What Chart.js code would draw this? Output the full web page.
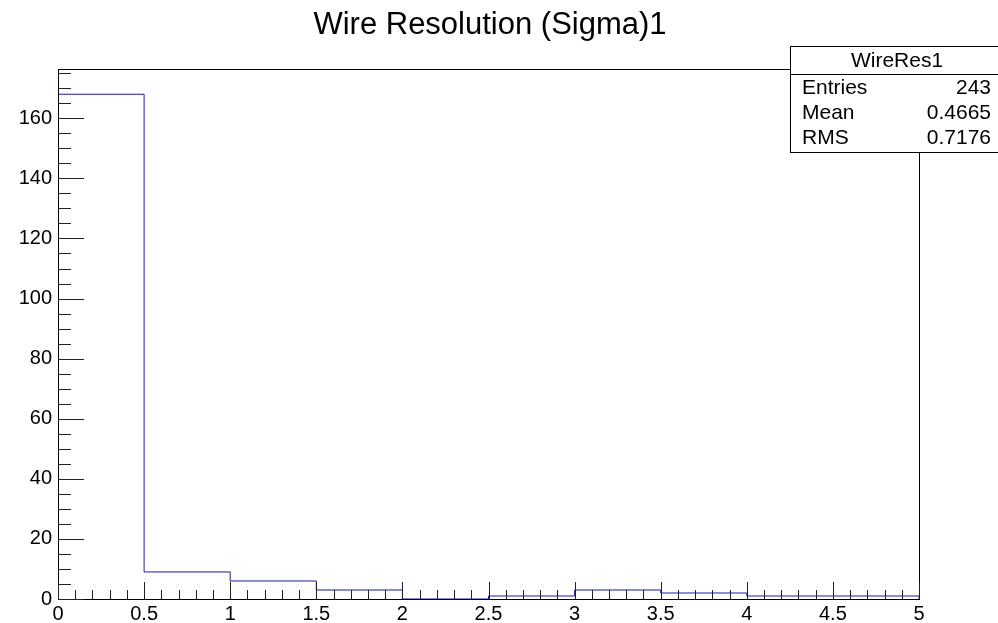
<!DOCTYPE html>
<html>
<head>
<meta charset="utf-8">
<script src="https://cdn.jsdelivr.net/npm/chart.js@4"></script>
<style>
  html, body { margin: 0; padding: 0; background: #fff; }
  canvas { display: block; }
</style>
</head>
<body>
<canvas id="myChart" width="998" height="623"></canvas>
<script>
// histogram bins (lower edges) and counts
const binLow = [0, 0.5, 1, 1.5, 2, 2.5, 3, 3.5, 4, 4.5];
const counts = [168, 9, 6, 3, 0, 1, 3, 2, 1, 1];
const xUpper = 5;
const yTop = 176.4;

const xTickValues = [0, 0.5, 1, 1.5, 2, 2.5, 3, 3.5, 4, 4.5, 5];
const xTickLabels = ['0', '0.5', '1', '1.5', '2', '2.5', '3', '3.5', '4', '4.5', '5'];
const yTickValues = [0, 20, 40, 60, 80, 100, 120, 140, 160];
const yTickLabels = ['0', '20', '40', '60', '80', '100', '120', '140', '160'];

const chartTitle = 'Wire Resolution (Sigma)1';
const statsName = 'WireRes1';
const statsRows = [['Entries', '243'], ['Mean', '0.4665'], ['RMS', '0.7176']];

// step outline points for the histogram
const histPoints = [{x: binLow[0], y: 0}];
binLow.forEach((x, i) => histPoints.push({x: x, y: counts[i]}));
histPoints.push({x: xUpper, y: counts[counts.length - 1]});
histPoints.push({x: xUpper, y: 0});

const FONT = 'Liberation Sans, Arial, sans-serif';

// ROOT style frame, inner ticks, title and stats box
const rootStyle = {
  id: 'rootStyle',
  afterDatasetsDraw(chart) {
    const ctx = chart.ctx;
    const a = chart.chartArea;
    const xs = chart.scales.x;
    const ys = chart.scales.y;
    ctx.save();
    ctx.lineWidth = 1;
    ctx.strokeStyle = '#000';
    ctx.strokeRect(Math.round(a.left) + 0.5, Math.round(a.top) + 0.5,
      Math.round(a.right - a.left), Math.round(a.bottom - a.top));

    // x ticks
    ctx.strokeStyle = '#222';
    ctx.beginPath();
    for (let k = 0; k <= 50; k++) {
      const px = Math.round(xs.getPixelForValue(k / 10)) + 0.5;
      const len = (k % 5 === 0) ? 17 : 9;
      ctx.moveTo(px, a.bottom);
      ctx.lineTo(px, a.bottom - len);
    }
    // y ticks
    for (let v = 0; v <= yTop; v += 5) {
      const py = Math.round(ys.getPixelForValue(v)) + 0.5;
      const len = (v % 20 === 0) ? 26 : 13;
      ctx.moveTo(a.left, py);
      ctx.lineTo(a.left + len, py);
    }
    ctx.stroke();

    // title
    ctx.fillStyle = '#000';
    ctx.font = '31px ' + FONT;
    ctx.textAlign = 'center';
    ctx.textBaseline = 'middle';
    ctx.fillText(chartTitle, 490, 25);

    // stats box
    ctx.fillStyle = '#fff';
    ctx.fillRect(790.5, 46.5, 212, 106);
    ctx.strokeStyle = '#000';
    ctx.strokeRect(790.5, 46.5, 212, 106);
    ctx.beginPath();
    ctx.moveTo(790.5, 74.5);
    ctx.lineTo(998, 74.5);
    ctx.stroke();
    ctx.fillStyle = '#000';
    ctx.font = '21px ' + FONT;
    ctx.textAlign = 'center';
    ctx.fillText(statsName, 897, 61);
    const rowY = [88, 113, 138];
    statsRows.forEach((r, i) => {
      ctx.textAlign = 'left';
      ctx.fillText(r[0], 802, rowY[i]);
      ctx.textAlign = 'right';
      ctx.fillText(r[1], 991, rowY[i]);
    });
    ctx.restore();
  }
};

const ctx = document.getElementById('myChart').getContext('2d');
const myChart = new Chart(ctx, {
  type: 'line',
  data: {
    datasets: [{
      label: statsName,
      data: histPoints,
      stepped: 'before',
      borderColor: '#1c1ca0',
      borderWidth: 1,
      pointRadius: 0,
      fill: false
    }]
  },
  options: {
    responsive: false,
    animation: false,
    layout: { padding: { top: 69, right: 79, left: 0, bottom: 0 } },
    plugins: {
      legend: { display: false },
      title: { display: false },
      tooltip: { enabled: false }
    },
    scales: {
      x: {
        type: 'linear',
        min: 0,
        max: xUpper,
        afterBuildTicks: (s) => { s.ticks = xTickValues.map(v => ({ value: v })); },
        afterFit: (s) => { s.height = 24; },
        grid: { display: false, drawTicks: false },
        border: { display: false },
        ticks: {
          autoSkip: false,
          maxRotation: 0,
          padding: 3,
          color: '#000',
          font: { family: FONT, size: 20 },
          callback: (v, i) => xTickLabels[i]
        }
      },
      y: {
        type: 'linear',
        min: 0,
        max: yTop,
        afterBuildTicks: (s) => { s.ticks = yTickValues.map(v => ({ value: v })); },
        afterFit: (s) => { s.width = 58; },
        grid: { display: false, drawTicks: false },
        border: { display: false },
        ticks: {
          autoSkip: false,
          padding: 6,
          color: '#000',
          font: { family: FONT, size: 20 },
          callback: (v, i) => yTickLabels[i]
        }
      }
    }
  },
  plugins: [rootStyle]
});
</script>
</body>
</html>
